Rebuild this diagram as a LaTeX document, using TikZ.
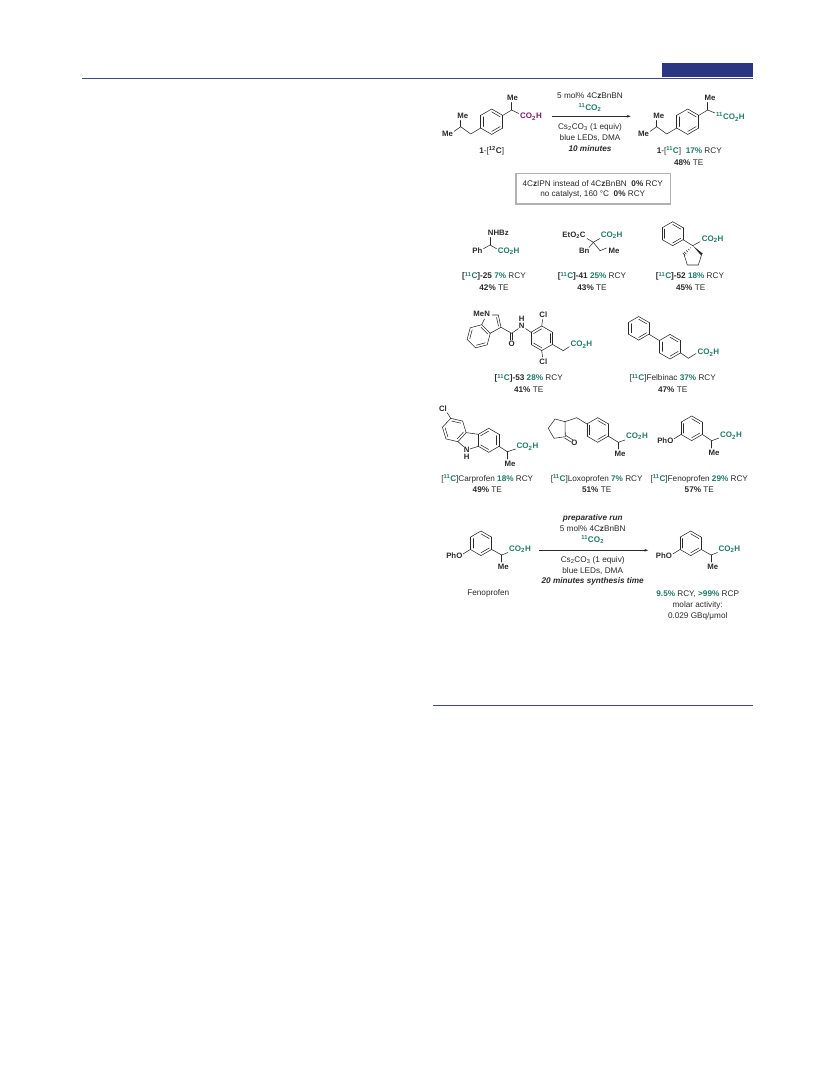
\documentclass[tikz,border=0pt]{standalone}
\usepackage{fontspec}
\setmainfont{Liberation Sans}
\definecolor{hdr}{HTML}{2A3583}
\definecolor{rulec}{HTML}{3F4A8C}
\definecolor{teal}{HTML}{1F7A68}
\definecolor{plum}{HTML}{7E1A68}
\definecolor{ink}{HTML}{2A2A2A}
\newcommand{\grn}[1]{\textcolor{teal}{\textbf{#1}}}
\newcommand{\lab}[1]{\textbf{[}\textcolor{teal}{\textsuperscript{\textbf{11}}\textbf{C}}\textbf{]#1}}
\newcommand{\ringb}[4]{% x y r startangle
  \foreach \k in {0,1,2,3,4,5}{
    \pgfmathsetmacro{\aa}{#4+60*\k}\pgfmathsetmacro{\ab}{#4+60*\k+60}
    \draw[bond] ([shift={(#1,#2)}]\aa:#3) -- ([shift={(#1,#2)}]\ab:#3);
  }
  \foreach \k in {0,2,4}{
    \pgfmathsetmacro{\aa}{#4+60*\k}\pgfmathsetmacro{\ab}{#4+60*\k+60}
    \draw[bond] ([shift={(#1,#2)}]\aa:#3*0.77) -- ([shift={(#1,#2)}]\ab:#3*0.77);
  }
}
\tikzset{
  bond/.style={draw=ink,line width=.55pt,line cap=round,line join=round},
  rxn/.style={draw=ink,line width=.45pt,-{Stealth[length=4pt,width=2.6pt]}},
  txt/.style={font=\fontsize{8.2}{10}\selectfont,text=ink,inner sep=0pt,anchor=center},
  atom/.style={font=\fontsize{7.8}{10}\selectfont\bfseries,text=ink,inner sep=0pt,anchor=center},
  acid/.style={font=\fontsize{8}{10}\selectfont\bfseries,text=teal,inner sep=0pt,anchor=west},
  acidp/.style={acid,text=plum},
  note/.style={draw=black!30,line width=1.2pt,fill=white},
}
\usetikzlibrary{arrows.meta}
\begin{document}
\begin{tikzpicture}[x=1pt,y=-1pt]
\useasboundingbox (0,0) rectangle (833,1091);
% page furniture
\fill[hdr] (662,63) rectangle (753,77);
\draw[rulec,line width=.9pt] (82,78.2) -- (753,78.2);
\draw[rulec,line width=.7pt] (433.3,705.3) -- (753.3,705.3);

% --- ibuprofen, left
\ringb{491.7}{121.7}{12.7}{-90}
\draw[bond] (480.7,128) -- (470.7,134) -- (460.7,126.7) -- (454,131.5);
\draw[bond] (460.7,126.7) -- (460.7,120.5);
\draw[bond] (502.7,115.4) -- (511.7,110) -- (518.7,113.5);
\draw[bond] (511.7,110) -- (511.7,102.5);
\node[atom] (a1) at (462.7,115.7) {Me};
\node[atom] (a2) at (447.5,134) {Me};
\node[atom] (a3) at (512.5,98.3) {Me};
\node[acidp] (a4) at (520,116.5) {CO\textsubscript{2}H};
\node[txt] (l1) at (491.7,150.7) {\textbf{1}-[\textsuperscript{\textbf{12}}\textbf{C}]};

% --- arrow 1
\coordinate (r1a) at (551.7,116.3);
\coordinate (r1b) at (630.7,116.3);
\draw[rxn] (r1a) -- (r1b);
\node[txt] (c1) at (590,96) {5 mol\% 4C\textbf{z}BnBN};
\node[txt,text=teal] (c2) at (590,107.3) {\textbf{\textsuperscript{11}CO\textsubscript{2}}};
\node[txt] (c3) at (590,127.3) {Cs\textsubscript{2}CO\textsubscript{3} (1 equiv)};
\node[txt] (c4) at (590,137.7) {blue LEDs, DMA};
\node[txt,font=\fontsize{8.2}{10}\selectfont\bfseries\itshape] (c5) at (590,148.3) {10 minutes};

% --- ibuprofen, right
\ringb{687.7}{121.7}{12.7}{-90}
\draw[bond] (676.7,128) -- (666.7,134) -- (656.7,126.7) -- (650,131.5);
\draw[bond] (656.7,126.7) -- (656.7,120.5);
\draw[bond] (698.7,115.4) -- (707.7,110) -- (715,113);
\draw[bond] (707.7,110) -- (707.7,102.5);
\node[atom] (b1) at (658.7,115.7) {Me};
\node[atom] (b2) at (643.5,134) {Me};
\node[atom] (b3) at (710,98.3) {Me};
\node[acid] (b4) at (716,117) {\textsuperscript{11}CO\textsubscript{2}H};
\node[txt] (l2) at (689.3,150.7) {\textbf{1}-[\textcolor{teal}{\textsuperscript{\textbf{11}}\textbf{C}}]\ \ \grn{17\%} RCY};
\node[txt] (l3) at (688.7,162.3) {\textbf{48\%} TE};

% --- conditions box
\node[note,minimum width=154.7pt,minimum height=30.7pt,inner sep=0pt] (box) at (593.3,188.7) {};
\node[txt] (n1) at (592.7,183.3) {4C\textbf{z}IPN instead of 4C\textbf{z}BnBN\ \ \textbf{0\%} RCY};
\node[txt] (n2) at (592.7,194.3) {no catalyst, 160 °C\ \ \textbf{0\%} RCY};

% --- 25
\draw[bond] (490,245) -- (490,237.5);
\draw[bond] (483.5,248.7) -- (490,245) -- (496.5,248.7);
\node[atom] (m1) at (498.3,233) {NHBz};
\node[atom] (m2) at (477.3,250.7) {Ph};
\node[acid] (m3) at (497.7,251) {CO\textsubscript{2}H};
\node[txt] (m4) at (494,276.3) {\lab{-25} \grn{7\%} RCY};
\node[txt] (m5) at (494,288) {\textbf{42\%} TE};

% --- 41
\draw[bond] (587,238.5) -- (593.3,242.3) -- (600,238.5);
\draw[bond] (589,247.5) -- (593.3,242.3) -- (600,250.7) -- (606.5,248);
\node[atom] (p1) at (574,235) {EtO\textsubscript{2}C};
\node[acid] (p2) at (600.7,235) {CO\textsubscript{2}H};
\node[atom] (p3) at (584.3,251) {Bn};
\node[atom] (p4) at (614,251) {Me};
\node[txt] (p5) at (592,276.3) {\lab{-41} \grn{25\%} RCY};
\node[txt] (p6) at (592,288) {\textbf{43\%} TE};

% --- 52
\ringb{672.7}{233.7}{12}{-90}
\draw[bond] (683.1,239.7) -- (692.7,245.7);
\draw[bond] (700,241.7) -- (692.7,245.7);
\draw[bond] (701.7,254.3) -- (698.3,265) -- (687.3,265) -- (684,254.3);
\fill[ink] (692.7,245.7) -- (702.8,253.6) -- (700.9,255.2) -- cycle;
\foreach \t in {.25,.45,.65,.85,1}{
  \draw[draw=ink,line width=.5pt] ({692.7-8.7*\t+1.8*\t*.7},{245.7+8.6*\t+1.8*\t*.7}) -- ({692.7-8.7*\t-1.8*\t*.7},{245.7+8.6*\t-1.8*\t*.7});
}
\node[acid] (q1) at (701.7,239) {CO\textsubscript{2}H};
\node[txt] (q2) at (690,276.3) {\lab{-52} \grn{18\%} RCY};
\node[txt] (q3) at (690.7,288) {\textbf{45\%} TE};

% --- 53
\ringb{478.7}{336.3}{12}{-75}
\draw[bond] (481.7,324.7) -- (484.5,319);
\draw[bond] (492.5,315) -- (498.3,315) -- (501,327.3) -- (490.2,333.2);
\draw[bond] (496.5,317.5) -- (498.5,326);
\draw[bond] (501,327.3) -- (511.7,333.3) -- (518.5,328.5);
\draw[bond] (510.7,333.3) -- (510.7,340);
\draw[bond] (512.7,333.3) -- (512.7,340);
\draw[bond] (525.5,328.5) -- (531,332.3);
\ringb{541.7}{338.3}{12.3}{-30}
\draw[bond] (541.7,326) -- (542.6,319.5);
\draw[bond] (541.7,350.6) -- (542.6,357);
\draw[bond] (552.4,344.4) -- (563.3,350.7) -- (569.3,346.7);
\node[atom] (r1) at (481.7,314) {MeN};
\node[atom] (r2) at (511.7,344.3) {O};
\node[atom] (r3) at (521.7,325.7) {N};
\node[atom] (r4) at (521.7,319) {H};
\node[atom] (r5) at (543.3,314.7) {Cl};
\node[atom] (r6) at (543.3,362) {Cl};
\node[acid] (r7) at (570.3,344.5) {CO\textsubscript{2}H};
\node[txt] (r8) at (528.7,378.3) {\lab{-53} \grn{28\%} RCY};
\node[txt] (r9) at (528.7,390) {\textbf{41\%} TE};

% --- felbinac
\ringb{638.7}{328.3}{11.8}{-90}
\ringb{670}{346.7}{12.3}{-90}
\draw[bond] (648.9,334.2) -- (659.3,340.5);
\draw[bond] (680.7,352.9) -- (688.3,358.3) -- (696,353.5);
\node[acid] (s1) at (697.3,352.7) {CO\textsubscript{2}H};
\node[txt] (s2) at (672.7,378.3) {[\textcolor{teal}{\textsuperscript{\textbf{11}}\textbf{C}}]Felbinac \grn{37\%} RCY};
\node[txt] (s3) at (672.7,390) {\textbf{47\%} TE};

% --- carprofen
\ringb{454.3}{430}{12.2}{-107}
\ringb{488.7}{440.3}{12}{-30}
\draw[bond] (466,432.6) -- (478.3,434.3);
\draw[bond] (458,441.7) -- (463.7,446.7);
\draw[bond] (478.3,446.3) -- (470,449);
\draw[bond] (450.7,418.3) -- (447,412.5);
\draw[bond] (499,446.3) -- (507.3,451.7) -- (515.5,449);
\draw[bond] (507.3,451.7) -- (507.3,459);
\node[atom] (t1) at (443,408.3) {Cl};
\node[atom] (t2) at (466.7,449.5) {N};
\node[atom] (t3) at (466.7,456.7) {H};
\node[atom] (t4) at (510,464) {Me};
\node[acid] (t5) at (516.5,446.7) {CO\textsubscript{2}H};
\node[txt] (t6) at (487.3,479) {[\textcolor{teal}{\textsuperscript{\textbf{11}}\textbf{C}}]Carprofen \grn{18\%} RCY};
\node[txt] (t7) at (487.3,490) {\textbf{49\%} TE};

% --- loxoprofen
\draw[bond] (565,421.7) -- (555,419) -- (548.3,428.3) -- (554,438.3) -- (565.3,436.7) -- cycle;
\draw[bond] (564.6,438) -- (571.3,442.2);
\draw[bond] (566,435.6) -- (572.7,439.8);
\draw[bond] (565,421.7) -- (576.7,417.7) -- (587,424);
\ringb{597.7}{430}{12.3}{-90}
\draw[bond] (608.4,436.2) -- (618.3,442.3) -- (625,440);
\draw[bond] (618.3,442.3) -- (618.3,449);
\node[atom] (u1) at (574.3,443.3) {O};
\node[atom] (u2) at (620,454) {Me};
\node[acid] (u3) at (626,436) {CO\textsubscript{2}H};
\node[txt] (u4) at (596.7,479) {[\textcolor{teal}{\textsuperscript{\textbf{11}}\textbf{C}}]Loxoprofen \grn{7\%} RCY};
\node[txt] (u5) at (596.7,490) {\textbf{51\%} TE};

% --- fenoprofen, row
\ringb{691.7}{428.3}{12.3}{-90}
\draw[bond] (681,434.5) -- (674,438.8);
\draw[bond] (702.4,434.5) -- (711.7,440.7) -- (719,438);
\draw[bond] (711.7,440.7) -- (711.7,448);
\node[atom] (v1) at (665.3,440.7) {PhO};
\node[atom] (v2) at (714,453.3) {Me};
\node[acid] (v3) at (720,435.7) {CO\textsubscript{2}H};
\node[txt] (v4) at (699.3,479) {[\textcolor{teal}{\textsuperscript{\textbf{11}}\textbf{C}}]Fenoprofen \grn{29\%} RCY};
\node[txt] (v5) at (699.3,490) {\textbf{57\%} TE};

% --- preparative run, left
\ringb{481}{543.3}{12.3}{-90}
\draw[bond] (470.3,549.5) -- (463,554);
\draw[bond] (491.7,549.5) -- (501.7,555) -- (508,552.5);
\draw[bond] (501.7,555) -- (501.7,562);
\node[atom] (w1) at (454.3,555.7) {PhO};
\node[atom] (w2) at (503.3,566.7) {Me};
\node[acid] (w3) at (509,549.3) {CO\textsubscript{2}H};
\node[txt] (w4) at (488.3,593.3) {Fenoprofen};

% --- arrow 2
\coordinate (r2a) at (539.3,550.3);
\coordinate (r2b) at (648.3,550.3);
\draw[rxn] (r2a) -- (r2b);
\node[txt,font=\fontsize{8.2}{10}\selectfont\bfseries\itshape] (d1) at (592.7,518.3) {preparative run};
\node[txt] (d2) at (592.7,528.7) {5 mol\% 4C\textbf{z}BnBN};
\node[txt,text=teal] (d3) at (592.7,539.3) {\textbf{\textsuperscript{11}CO\textsubscript{2}}};
\node[txt] (d4) at (592.7,560.3) {Cs\textsubscript{2}CO\textsubscript{3} (1 equiv)};
\node[txt] (d5) at (592.7,570.7) {blue LEDs, DMA};
\node[txt,font=\fontsize{8.2}{10}\selectfont\bfseries\itshape] (d6) at (592.7,581) {20 minutes synthesis time};

% --- preparative run, right
\ringb{690.7}{543.3}{12.3}{-90}
\draw[bond] (680,549.5) -- (672.7,554);
\draw[bond] (701.4,549.5) -- (711,555) -- (717.5,552.5);
\draw[bond] (711,555) -- (711,562);
\node[atom] (x1) at (664,555.7) {PhO};
\node[atom] (x2) at (712.7,566.7) {Me};
\node[acid] (x3) at (718.3,549.3) {CO\textsubscript{2}H};
\node[txt] (x4) at (697.7,594) {\grn{9.5\%} RCY, \grn{>99\%} RCP};
\node[txt] (x5) at (697.7,605.3) {molar activity:};
\node[txt] (x6) at (697.7,616.7) {0.029 GBq/μmol};
\end{tikzpicture}
\end{document}
